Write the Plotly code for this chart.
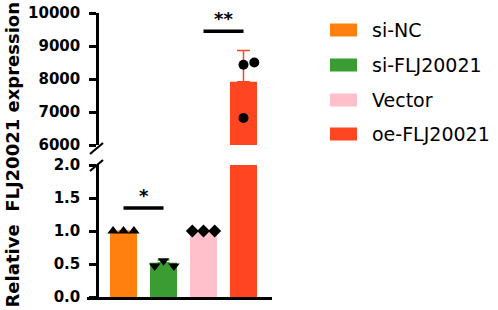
import plotly.graph_objects as go

# ---- data ----
groups = ["si-NC", "si-FLJ20021", "Vector", "oe-FLJ20021"]
means = [1.0, 0.52, 1.0, 7917]
sd_up = [0.0, 0.04, 0.0, 950]
points_siNC = [1.0, 1.0, 1.0]
points_siFLJ = [0.47, 0.55, 0.47]
points_vector = [1.0, 1.0, 1.0]
points_oe = [8430, 8500, 6820]
sig_low = {"label": "*", "from": 0, "to": 1, "y": 1.35}
sig_high = {"label": "**", "from": 2, "to": 3, "y": 9450}
low_ticks = [0.0, 0.5, 1.0, 1.5, 2.0]
high_ticks = [6000, 7000, 8000, 9000, 10000]

# ---- style ----
colors = ["#FF7F0F", "#3B9C34", "#FFC0CB", "#FF4521"]
symbols = ["triangle-up", "triangle-down", "diamond", "circle"]
jitter = [[-0.26, 0.0, 0.26], [-0.22, 0.0, 0.26], [-0.28, 0.0, 0.28], [0.0, 0.27, 0.0]]
W, H = 498, 310
FONT = "DejaVu Sans, Verdana, sans-serif"

def px(x):
    return x / W

def py(y):
    return 1 - y / H

fig = go.Figure()

for i, g in enumerate(groups):
    fig.add_trace(go.Bar(x=[i], y=[means[i]], marker=dict(color=colors[i], line=dict(width=0)),
                         width=0.675, showlegend=False, xaxis="x", yaxis="y",
                         error_y=dict(type="data", symmetric=False, array=[sd_up[i]], arrayminus=[0],
                                      color=colors[i], thickness=1.5, width=6,
                                      visible=(i != 3))))
fig.add_trace(go.Bar(x=[3], y=[means[3]], marker=dict(color=colors[3], line=dict(width=0)),
                     width=0.675, showlegend=False, xaxis="x2", yaxis="y2",
                     error_y=dict(type="data", symmetric=False, array=[sd_up[3]], arrayminus=[0],
                                  color=colors[3], thickness=1.5, width=6.5)))

all_pts = [points_siNC, points_siFLJ, points_vector]
for i, pts in enumerate(all_pts):
    fig.add_trace(go.Scatter(x=[i + j for j in jitter[i]], y=pts, mode="markers",
                             marker=dict(symbol=symbols[i], color="black", size=10),
                             showlegend=False, xaxis="x", yaxis="y", cliponaxis=False))
fig.add_trace(go.Scatter(x=[3 + j for j in jitter[3]], y=points_oe, mode="markers",
                         marker=dict(symbol="circle", color="black", size=10),
                         showlegend=False, xaxis="x2", yaxis="y2"))

fig.add_trace(go.Scatter(x=[sig_low["from"], sig_low["to"]], y=[sig_low["y"]] * 2, mode="lines",
                         line=dict(color="black", width=3.5), showlegend=False, xaxis="x", yaxis="y"))
fig.add_trace(go.Scatter(x=[sig_high["from"], sig_high["to"]], y=[sig_high["y"]] * 2, mode="lines",
                         line=dict(color="black", width=3.5), showlegend=False, xaxis="x2", yaxis="y2"))
annotations = [
    dict(x=(sig_low["from"] + sig_low["to"]) / 2, y=sig_low["y"], xref="x", yref="y", text="<b>*</b>",
         showarrow=False, yanchor="bottom", yshift=0, font=dict(size=18, color="black", family=FONT)),
    dict(x=(sig_high["from"] + sig_high["to"]) / 2, y=sig_high["y"], xref="x2", yref="y2", text="<b>**</b>",
         showarrow=False, yanchor="bottom", yshift=0, font=dict(size=18, color="black", family=FONT)),
    dict(x=0, y=py(155), xref="paper", yref="paper", text="<b>Relative\u00a0\u00a0FLJ20021 expression</b>",
         textangle=-90, showarrow=False, xanchor="left", borderpad=0,
         font=dict(size=18, color="black", family=FONT)),
]

shapes = []
leg_y = [30, 65, 100, 134]
for i, g in enumerate(groups):
    shapes.append(dict(type="rect", xref="paper", yref="paper", x0=px(330), x1=px(357),
                       y0=py(leg_y[i] + 6.5), y1=py(leg_y[i] - 6.5), fillcolor=colors[i], line=dict(width=0)))
    annotations.append(dict(x=px(370), y=py(leg_y[i]), xref="paper", yref="paper", text=g, showarrow=False,
                            xanchor="left", yanchor="middle", font=dict(size=19, color="black", family=FONT)))

for (x0, y0, x1, y1) in [(90, 154, 103, 143), (90, 171, 103, 160)]:
    shapes.append(dict(type="line", xref="paper", yref="paper", x0=px(x0), y0=py(y0), x1=px(x1), y1=py(y1),
                       line=dict(color="black", width=2.2)))

xrange = [-0.9125, 3.7125]
xdom = [px(87), px(272)]
axis_common = dict(showline=True, linecolor="black", linewidth=2.5, ticks="outside", ticklen=7,
                   tickwidth=2.5, tickcolor="black", showgrid=False, zeroline=False,
                   tickfont=dict(size=15, color="black", family=FONT, weight="bold"),
                   ticklabelstandoff=6, ticklabeloverflow="allow", anchor="free", position=px(97))

fig.update_layout(
    width=W, height=H, margin=dict(l=0, r=0, t=0, b=0, autoexpand=False),
    paper_bgcolor="white", plot_bgcolor="rgba(0,0,0,0)",
    showlegend=False, barmode="overlay",
    xaxis=dict(domain=xdom, range=xrange, showline=True, linecolor="black", linewidth=2.5,
               showticklabels=False, ticks="", showgrid=False, zeroline=False, anchor="y"),
    xaxis2=dict(domain=xdom, range=xrange, visible=False, anchor="y2"),
    yaxis=dict(domain=[py(297), py(165)], range=[0, 2], tickvals=low_ticks,
               ticktext=[f"{v:.1f}" for v in low_ticks], **axis_common),
    yaxis2=dict(domain=[py(145), py(13)], range=[6000, 10000], tickvals=high_ticks,
                ticktext=[str(v) for v in high_ticks], **axis_common),
    annotations=annotations, shapes=shapes,
)

fig.write_html("out.html", config={"displayModeBar": False},
               post_script="document.body.style.margin='0';")
